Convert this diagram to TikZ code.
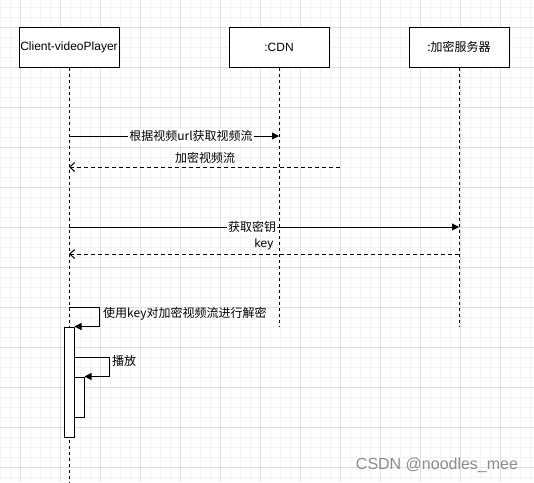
\documentclass[tikz,border=0pt]{standalone}
\usepackage{fontspec}
\setmainfont{Liberation Sans}
\newfontfamily\cjk{Noto Sans CJK SC}
\usetikzlibrary{arrows.meta}
\definecolor{gridminor}{HTML}{F3F3F3}
\definecolor{gridmajor}{HTML}{E0E0E0}
\definecolor{wmgray}{HTML}{8C8C8C}

\begin{document}
\begin{tikzpicture}[x=1pt, y=-1pt,
actor/.style = {draw, line width=1pt, fill=white, minimum width=100pt,
            minimum height=40pt, inner sep=0pt, font=\fontsize{12}{14}\selectfont},
lifeline/.style = {line width=0.8pt, dash pattern=on 3pt off 3pt},
msg/.style = {line width=1pt, -{Triangle[length=7pt,width=7pt]}},
ret/.style = {line width=1pt, dash pattern=on 4pt off 3pt,
            -{Straight Barb[length=5pt,width=9pt]}},
lbl/.style = {inner sep=1pt, font=\fontsize{12}{14}\selectfont},
actbox/.style = {draw, line width=1pt, fill=white, minimum width=10pt,
            inner sep=0pt}
                ]
    \useasboundingbox (0,0) rectangle (534,482);
    \fill[white] (0,0) rectangle (534,482);
    % background grid
    \foreach \x in {0,10,...,530}
        \draw[gridminor, line width=0.6pt] (\x,0) -- (\x,482);
    \foreach \y in {7,17,...,477}
        \draw[gridminor, line width=0.6pt] (0,\y) -- (534,\y);
    \foreach \x in {20,60,...,500}
        \draw[gridmajor, line width=0.6pt] (\x,0) -- (\x,482);
    \foreach \y in {27,67,...,467}
        \draw[gridmajor, line width=0.6pt] (0,\y) -- (534,\y);

    % actors
    \node[actor] at (69,47) (client) {Client-videoPlayer};
    \node[actor] at (279,47) (cdn) {:CDN};
    \node[actor] at (459,47) (key) {\cjk :加密服务器};

    \coordinate (clientEnd) at (69,482);
    \coordinate (cdnEnd) at (279,327);
    \coordinate (keyEnd) at (459,327);
    \draw[lifeline] (client) -- (clientEnd);
    \draw[lifeline] (cdn) -- (cdnEnd);
    \draw[lifeline] (key) -- (keyEnd);

    % messages
    \foreach \y/\v in {136/a, 167/b, 227/c, 254/d}
        \coordinate (c\v) at (69,\y);
    \coordinate (n1) at (279,136);
    \coordinate (n2) at (340,167);
    \coordinate (k1) at (459,227);
    \coordinate (k2) at (459,254);
    \draw[msg] (ca) -- (n1);
    \node[lbl, fill=white] at (191,136) (l1) {\cjk 根据视频url获取视频流};
    \draw[ret] (n2) -- (cb);
    \node[lbl] at (205,158) (l2) {\cjk 加密视频流};
    \draw[msg] (cc) -- (k1);
    \node[lbl, fill=white] at (252,227) (l3) {\cjk 获取密钥};
    \draw[ret] (k2) -- (cd);
    \node[lbl] at (264,244) (l4) {key};

    % activations
    \node[actbox, minimum height=110pt] at (69,382) (act1) {};
    \node[actbox, minimum height=40pt] at (79,397) (act2) {};

    \coordinate (s1) at (69,307);
    \coordinate (s2) at (74,357);
    \draw[msg] (s1) -- ++(30,0) |- (act1.north east);
    \node[lbl, anchor=west] at (102,314) (l5) {\cjk 使用key对加密视频流进行解密};
    \draw[msg] (s2) -- ++(35,0) |- (act2.north east);
    \node[lbl, anchor=west] at (111,361) (l6) {\cjk 播放};

    \node[wmgray, font=\fontsize{16}{18}\selectfont] at (437,465) (wm) {CSDN @noodles\_mee};
\end{tikzpicture}
\end{document}
